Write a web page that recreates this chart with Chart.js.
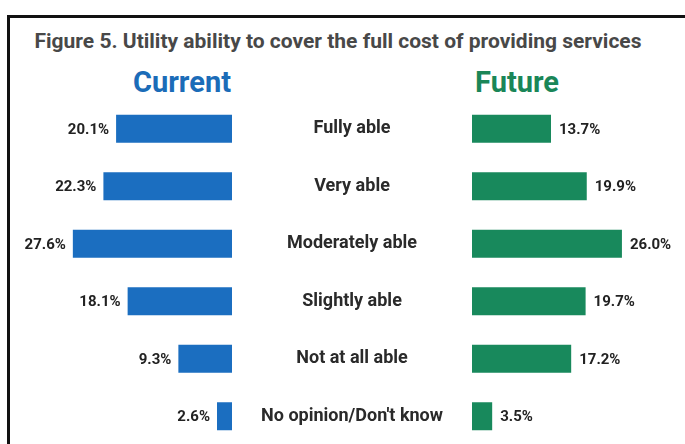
<!DOCTYPE html>
<html>
<head>
<meta charset="utf-8">
<script src="https://cdn.jsdelivr.net/npm/chart.js@4.4.1/dist/chart.umd.min.js"></script>
<style>
  html, body { margin: 0; padding: 0; background: #fff; }
  #page { position: relative; width: 685px; height: 444px; overflow: hidden; font-family: Roboto, "Noto Sans", sans-serif; }
  #frame { position: absolute; left: 7px; top: 15px; right: -6px; bottom: -6px; border-top: 3px solid #111; border-left: 3px solid #111; }
  #title { position: absolute; left: 0; width: 676px; top: 29px; text-align: center; font-weight: 700; font-size: 21px; color: #484848; white-space: nowrap; }
  .side { position: absolute; top: 65px; font-weight: 700; font-size: 29px; text-align: center; }
  #curHead { left: 112px; width: 140px; color: #1b6cb8; }
  #futHead { left: 447px; width: 140px; color: #1a8658; }
  canvas { position: absolute; top: 100px; }
  #curChart { left: 10px; }
  #futChart { left: 260px; }
</style>
</head>
<body>
<div id="page">
  <div id="frame"></div>
  <div id="title">Figure 5. Utility ability to cover the full cost of providing services</div>
  <div class="side" id="curHead">Current</div>
  <div class="side" id="futHead">Future</div>
  <canvas id="curChart" width="250" height="345"></canvas>
  <canvas id="futChart" width="425" height="345"></canvas>
</div>
<script>
const categories = ["Fully able", "Very able", "Moderately able", "Slightly able", "Not at all able", "No opinion/Don't know"];
const currentValues = [20.1, 22.3, 27.6, 18.1, 9.3, 2.6];
const futureValues = [13.7, 19.9, 26.0, 19.7, 17.2, 3.5];

const BLUE = "#1b6ec0";
const GREEN = "#18895c";
const SCALE_MAX = 30;

// prints "xx.x%" next to the free end of each bar
const valueLabels = {
  id: "valueLabels",
  afterDatasetsDraw(chart, args, opts) {
    const ctx = chart.ctx;
    const data = chart.data.datasets[0].data;
    ctx.save();
    ctx.font = "bold 15px Roboto, sans-serif";
    ctx.fillStyle = "#222";
    ctx.textBaseline = "middle";
    ctx.textAlign = opts.side === "left" ? "right" : "left";
    chart.getDatasetMeta(0).data.forEach((bar, i) => {
      const x = opts.side === "left" ? bar.x - opts.gap : bar.x + opts.gap;
      ctx.fillText(data[i].toFixed(1) + "%", x, bar.y + 1);
    });
    ctx.restore();
  }
};

function barDataset(values, color) {
  return {
    data: values,
    backgroundColor: color,
    borderWidth: 0,
    barPercentage: 1,
    categoryPercentage: 0.487
  };
}

new Chart(document.getElementById("curChart"), {
  type: "bar",
  data: { labels: categories, datasets: [barDataset(currentValues, BLUE)] },
  plugins: [valueLabels],
  options: {
    indexAxis: "y",
    responsive: false,
    animation: false,
    layout: { padding: { left: 49, right: 28, top: 0, bottom: 0 } },
    plugins: {
      legend: { display: false },
      tooltip: { enabled: false },
      valueLabels: { side: "left", gap: 7 }
    },
    scales: {
      x: { type: "linear", reverse: true, min: 0, max: SCALE_MAX, display: false },
      y: { display: false }
    }
  }
});

new Chart(document.getElementById("futChart"), {
  type: "bar",
  data: { labels: categories, datasets: [barDataset(futureValues, GREEN)] },
  plugins: [valueLabels],
  options: {
    indexAxis: "y",
    responsive: false,
    animation: false,
    layout: { padding: { left: 0, right: 40, top: 0, bottom: 0 } },
    plugins: {
      legend: { display: false },
      tooltip: { enabled: false },
      valueLabels: { side: "right", gap: 8 }
    },
    scales: {
      x: { type: "linear", min: 0, max: SCALE_MAX, display: false },
      y: {
        position: "left",
        grid: { display: false, drawTicks: false },
        border: { display: false },
        ticks: {
          crossAlign: "center",
          padding: 29,
          color: "#2a2a2a",
          font: { family: "Roboto, sans-serif", size: 18, weight: "bold" }
        },
        // fixed label column; keep the bars using the full height
        afterFit(scale) {
          scale.width = 212;
          scale.paddingTop = 0;
          scale.paddingBottom = 0;
        }
      }
    }
  }
});
</script>
</body>
</html>
